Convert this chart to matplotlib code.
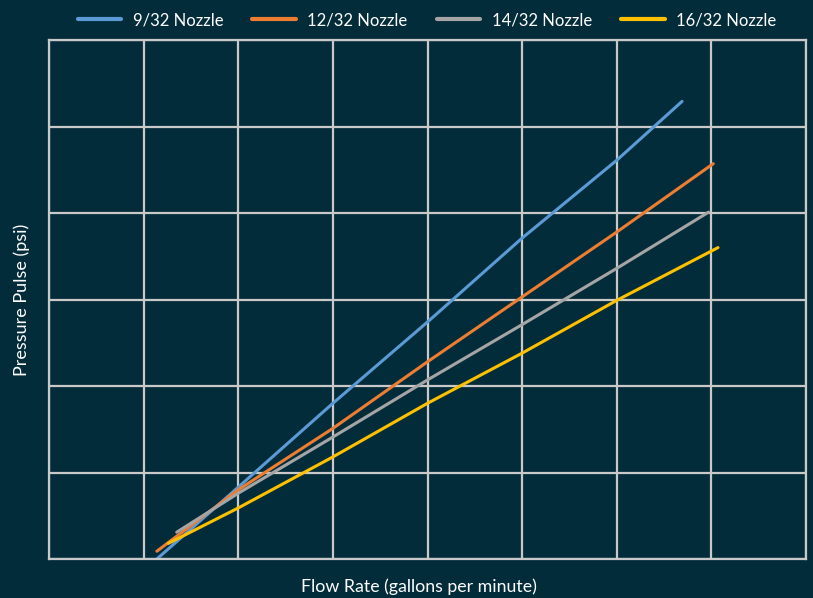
import numpy as np
import matplotlib.pyplot as plt

# Flow rate (gpm) vs pressure pulse (psi)
flow_932 = [11.4, 20, 30, 40, 50, 60, 66.9]
psi_932 = [0.0, 8.3, 18.0, 27.4, 37.1, 46.1, 52.9]

flow_1232 = [11.4, 20, 30, 40, 50, 60, 70.2]
psi_1232 = [0.9, 8.0, 15.1, 22.8, 30.3, 37.8, 45.7]

flow_1432 = [13.5, 20, 30, 40, 50, 60, 69.7]
psi_1432 = [3.1, 7.6, 14.1, 20.7, 27.1, 33.6, 40.1]

flow_1632 = [12.6, 20, 30, 40, 50, 60, 70.7]
psi_1632 = [1.8, 5.9, 11.8, 18.0, 23.8, 29.9, 36.0]

series = [
    ('9/32 Nozzle', flow_932, psi_932, '#5b9bd5'),
    ('12/32 Nozzle', flow_1232, psi_1232, '#ed7d31'),
    ('14/32 Nozzle', flow_1432, psi_1432, '#a5a5a5'),
    ('16/32 Nozzle', flow_1632, psi_1632, '#ffc000'),
]

bg = '#032c3a'
grid_col = '#c9c9c9'

plt.rcParams['font.family'] = ['Lato', 'DejaVu Sans']

fig = plt.figure(figsize=(8.13, 5.98), dpi=100, facecolor=bg)
ax = fig.add_axes([49/813, 1 - 559/598, 757/813, 519/598])
ax.set_facecolor(bg)

for name, x, y, c in series:
    ax.plot(x, y, color=c, lw=2.2, label=name, solid_capstyle='round')

ax.set_xlim(0, 80)
ax.set_ylim(0, 60)
ax.set_xticks(np.arange(0, 81, 10))
ax.set_yticks(np.arange(0, 61, 10))
ax.grid(True, color=grid_col, lw=1.6)
ax.set_axisbelow(True)
ax.tick_params(length=0, labelbottom=False, labelleft=False)
for s in ax.spines.values():
    s.set_color(grid_col)
    s.set_linewidth(1.6)

fig.text(22/813, 1 - 300/598, 'Pressure Pulse (psi)', rotation=90, color='white',
         fontsize=13, ha='center', va='center')
fig.text(419/813, 1 - 587/598, 'Flow Rate (gallons per minute)', color='white',
         fontsize=12.8, ha='center', va='center')

leg = fig.legend(loc='center', bbox_to_anchor=(427/813, 1 - 20/598), ncol=4,
                 frameon=False, fontsize=12, handlelength=2.6, columnspacing=1.75,
                 handletextpad=0.7)
for t in leg.get_texts():
    t.set_color('white')
for h in leg.get_lines():
    h.set_linewidth(3)

fig.savefig('out.png', dpi=100, facecolor=bg)
